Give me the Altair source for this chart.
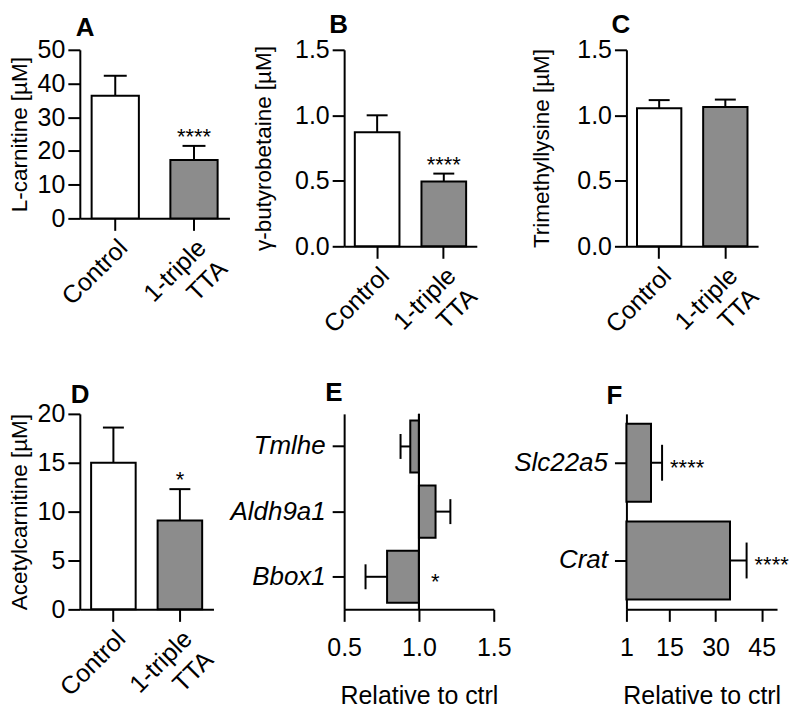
import altair as alt
import pandas as pd

FONT = "Liberation Sans"
GRAY = "#8c8c8c"

# ---------------- data ----------------
groups = ["Control", "1-triple TTA"]
group_fills = ["#ffffff", GRAY]

lcar_mean = [36.4, 17.3]
lcar_hi = [42.3, 21.5]
lcar_sig = ["", "****"]

gbb_mean = [0.87, 0.495]
gbb_hi = [1.0, 0.555]
gbb_sig = ["", "****"]

tml_mean = [1.053, 1.063]
tml_hi = [1.116, 1.12]
tml_sig = ["", ""]

acc_mean = [15.0, 9.1]
acc_hi = [18.6, 12.3]
acc_sig = ["", "*"]

genes_e = ["Tmlhe", "Aldh9a1", "Bbox1"]
rel_e = [0.942, 1.111, 0.787]
err_e = [0.877, 1.21, 0.643]
sig_e = ["", "", "*"]

genes_f = ["Slc22a5", "Crat"]
rel_f = [9.0, 34.7]
err_f = [12.6, 40.1]
sig_f = ["****", "****"]

ticks_a = [0, 10, 20, 30, 40, 50]
ticks_bc = [0, 0.5, 1.0, 1.5]
ticks_d = [0, 5, 10, 15, 20]
ticks_e = [0.5, 1.0, 1.5]
ticks_f = [1, 15, 30, 45]

LABEL_EXPR = ("datum.value == '1-triple TTA' ? ['1-triple', 'TTA\u00a0\u00a0'] : datum.value")


def letter_title(letter, dx, dy):
    return alt.TitleParams(letter, anchor="start", frame="group", fontSize=26,
                           fontWeight="bold", font=FONT, color="black",
                           baseline="alphabetic", offset=8, dx=dx, dy=dy)


def bar_panel(mean, hi, sig, ymax, yvals, fmt, ytitle, letter, w, h,
              pin, pout, tpad, ldx, ldy, cap):
    df = pd.DataFrame({"group": groups, "mean": mean, "hi": hi, "sig": sig})
    base = alt.Chart(df)
    xaxis = alt.Axis(title=None, labelAngle=-45, labelAlign="right",
                     labelBaseline="middle", labelFontSize=25, labelPadding=13,
                     labelOffset=8, labelLineHeight=30, labelExpr=LABEL_EXPR)
    xenc = alt.X("group:N", sort=groups,
                 scale=alt.Scale(paddingInner=pin, paddingOuter=pout), axis=xaxis)
    yscale = alt.Scale(domain=[0, ymax], nice=False, zero=True)
    yaxis = alt.Axis(values=yvals, format=fmt, title=ytitle, titleFontSize=22.5,
                     labelFontSize=25, titlePadding=tpad, labelPadding=3,
                     labelOverlap=False)
    ymean = alt.Y("mean:Q", scale=yscale, axis=yaxis)
    yhi = alt.Y("hi:Q", scale=yscale, axis=yaxis)
    bars = base.mark_bar(stroke="black", strokeWidth=2).encode(
        x=xenc, y=ymean,
        fill=alt.Fill("group:N", scale=alt.Scale(domain=groups, range=group_fills),
                      legend=None),
    )
    err = base.mark_rule(color="black", strokeWidth=2).encode(
        x=xenc, y=ymean, y2="hi:Q")
    caps = base.mark_tick(color="black", thickness=2, size=cap, opacity=1).encode(
        x=xenc, y=yhi)
    stars = base.mark_text(fontSize=22, font=FONT, color="black",
                           baseline="alphabetic", dy=-2).encode(
        x=xenc, y=yhi, text="sig:N")
    return alt.layer(bars, err, caps, stars).properties(
        width=w, height=h, title=letter_title(letter, ldx, ldy))


def hbar_panel(genes, rel, err, sig, domain, base_val, xvals, fmt, letter, w, h, cap,
               star_on_base, star_dx, ldx, ldy):
    df = pd.DataFrame({"gene": genes, "rel": rel, "err": err, "sig": sig})
    base = alt.Chart(df)
    yenc = alt.Y("gene:N", sort=genes,
                 scale=alt.Scale(paddingInner=0.2, paddingOuter=0.1),
                 axis=alt.Axis(title=None, labelFontSize=26, labelFontStyle="italic",
                               labelPadding=7))
    xaxis = alt.Axis(values=xvals, format=fmt, title="Relative to ctrl",
                     titleFontSize=25, labelFontSize=25, labelPadding=14,
                     titlePadding=23, labelFlush=False, labelOverlap=False)
    xscale = alt.Scale(domain=domain, nice=False, zero=False)
    xrel = alt.X("rel:Q", scale=xscale, axis=xaxis)
    xerr = alt.X("err:Q", scale=xscale, axis=xaxis)
    bars = base.mark_bar(fill=GRAY, stroke="black", strokeWidth=2).encode(
        y=yenc, x=xrel, x2=alt.datum(base_val))
    rule = base.mark_rule(color="black", strokeWidth=2).encode(
        y=yenc, x=xrel, x2="err:Q")
    caps = base.mark_tick(color="black", thickness=2, size=cap, opacity=1).encode(
        y=yenc, x=xerr)
    layers = [bars, rule, caps]
    star_style = dict(fontSize=22, font=FONT, color="black", align="left",
                      baseline="middle", dx=star_dx, dy=5)
    if star_on_base:
        layers.append(base.mark_rule(color="black", strokeWidth=2).encode(
            x=alt.datum(base_val, scale=xscale, axis=xaxis)))
        stars = base.mark_text(**star_style).encode(
            y=yenc, x=alt.datum(base_val, scale=xscale, axis=xaxis), text="sig:N")
    else:
        stars = base.mark_text(**star_style).encode(
            y=yenc, x=xerr, text="sig:N")
    layers.append(stars)
    return alt.layer(*layers).properties(width=w, height=h,
                                         title=letter_title(letter, ldx, ldy))


def spacer(w):
    d = pd.DataFrame({"a": [0]})
    return alt.Chart(d).mark_point(opacity=0).encode(
        x=alt.X("a:Q", axis=None), y=alt.Y("a:Q", axis=None)
    ).properties(width=w, height=10)


A = bar_panel(lcar_mean, lcar_hi, lcar_sig, 50, ticks_a, "d", "L-carnitine [µM]", "A",
              150, 169, 0.4, 0.15, 6, -4, 32, 23)
B = bar_panel(gbb_mean, gbb_hi, gbb_sig, 1.5, ticks_bc, ".1f", "γ-butyrobetaine [µM]", "B",
              133, 197, 0.33, 0.16, 19, -15, 29, 21)
C = bar_panel(tml_mean, tml_hi, tml_sig, 1.5, ticks_bc, ".1f", "Trimethyllysine [µM]", "C",
              132, 197, 0.33, 0.16, 23, -15, 29, 21)
D = bar_panel(acc_mean, acc_hi, acc_sig, 20, ticks_d, "d", "Acetylcarnitine [µM]", "D",
              134, 196, 0.33, 0.17, 6, -9, 35, 21)
E = hbar_panel(genes_e, rel_e, err_e, sig_e, [0.5, 1.5], 1.0, ticks_e, ".1f", "E",
               150, 196, 25, True, 12, -19, 22)
F = hbar_panel(genes_f, rel_f, err_f, sig_f, [1, 50], 1, ticks_f, "d", "F",
               151, 196, 36, False, 8, -20, 24)

chart = alt.concat(
    A, spacer(115), B, spacer(133), C,
    D, spacer(115), E, spacer(133), F,
    columns=5, spacing={"row": 168, "column": 0}, bounds="flush", align="each",
).properties(
    padding={"left": 0, "top": 3, "right": 0, "bottom": 0}
).configure_view(stroke=None).configure_axis(
    domainColor="black", domainWidth=2, tickColor="black", tickWidth=2, tickSize=12,
    labelColor="black", titleColor="black", labelFont=FONT, titleFont=FONT,
    grid=False, titleFontWeight="normal", labelOverlap=False,
)

chart.save("out.html", embed_options={"renderer": "svg", "actions": False})
